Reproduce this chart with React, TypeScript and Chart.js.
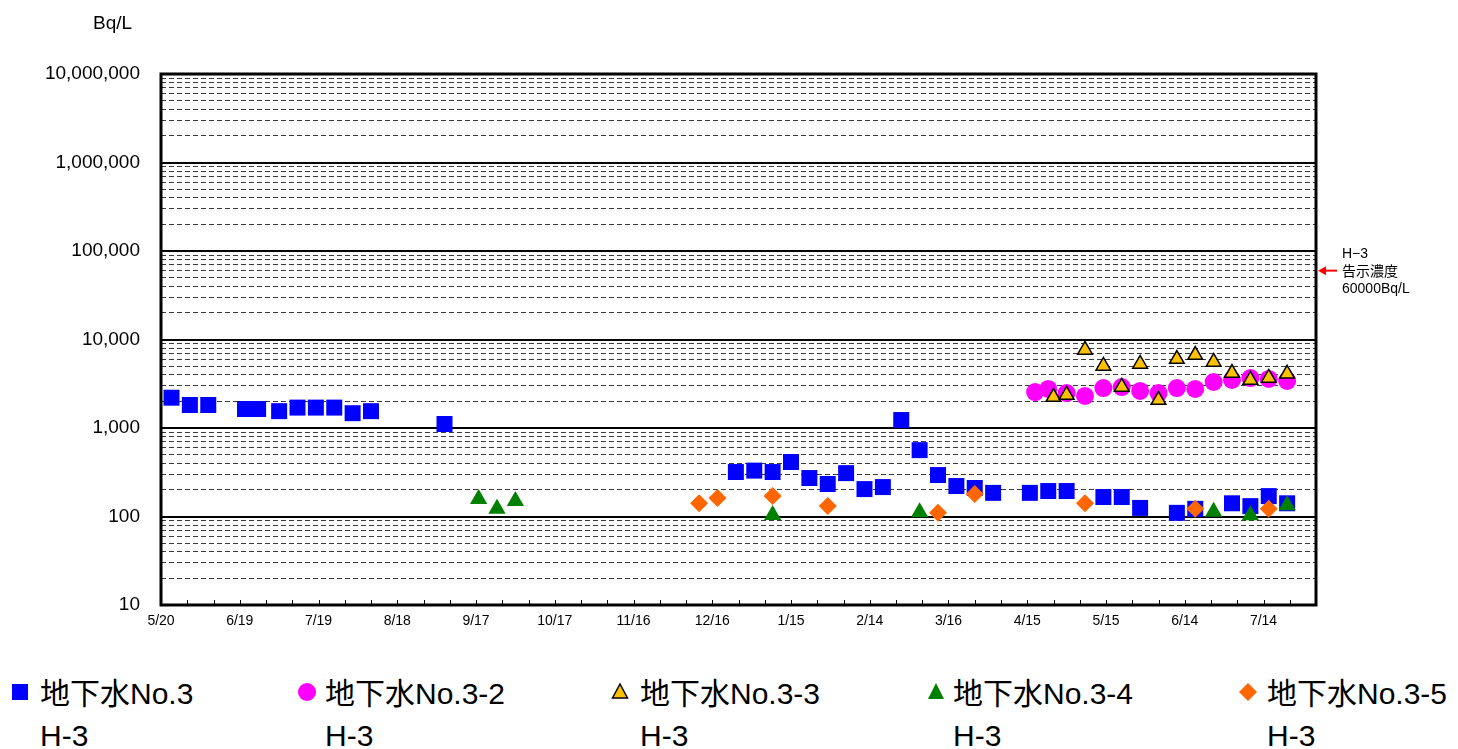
import React, { useEffect, useRef } from 'react';
import { Chart, registerables } from 'chart.js';

Chart.register(...registerables);

// x values are day offsets from 5/20 (axis runs 5/20 → 8/3, 440 days)
const X_MAX_DAY = 440;
const xTickLabels = ['5/20', '6/19', '7/19', '8/18', '9/17', '10/17', '11/16', '12/16', '1/15', '2/14', '3/16', '4/15', '5/15', '6/14', '7/14'];

const no3Days = [4, 11, 18, 32, 37, 45, 52, 59, 66, 73, 80, 108, 219, 226, 233, 240, 247, 254, 261, 268, 275, 282, 289, 296, 303, 310, 317, 331, 338, 345, 359, 366, 373, 387, 394, 408, 415, 422, 429];
const no3Values = [2200, 1820, 1820, 1640, 1640, 1550, 1700, 1700, 1700, 1470, 1550, 1110, 318, 330, 318, 413, 272, 233, 309, 204, 215, 1230, 562, 294, 221, 210, 185, 185, 194, 194, 166, 166, 125, 110, 122, 141, 131, 170, 141];

const no3_2Days = [333, 338, 345, 352, 359, 366, 373, 380, 387, 394, 401, 408, 415, 422, 429];
const no3_2Values = [2550, 2760, 2480, 2300, 2830, 2900, 2620, 2480, 2830, 2760, 3310, 3490, 3670, 3580, 3400];

const no3_3Days = [340, 345, 352, 359, 366, 373, 380, 387, 394, 401, 408, 415, 422, 429];
const no3_3Values = [2240, 2360, 7620, 5030, 2910, 5290, 2070, 6020, 6680, 5570, 4180, 3490, 3680, 4090];

const no3_4Days = [121, 128, 135, 233, 289, 401, 415, 429];
const no3_4Values = [158, 122, 150, 104, 112, 113, 103, 134];

const no3_5Days = [205, 212, 233, 254, 296, 310, 352, 394, 422];
const no3_5Values = [141, 162, 170, 131, 110, 180, 141, 122, 122];

const seriesNames = ['地下水No.3', '地下水No.3-2', '地下水No.3-3', '地下水No.3-4', '地下水No.3-5'];
const seriesSub = 'H-3';
const yUnit = 'Bq/L';
const limitValue = 60000;
const limitLines = ['H−3', '告示濃度', '60000Bq/L'];

const LATIN = '"Liberation Sans", Arial, "Noto Sans CJK JP", sans-serif';

const isDecade = (v: number) => {
  const l = Math.log10(v);
  return Math.abs(l - Math.round(l)) < 1e-9;
};

const toPoints = (xs: number[], ys: number[]) => xs.map((x, i) => ({ x, y: ys[i] }));

const chartPlugins = [
  {
    id: 'frameAndTicks',
    afterDraw(chart: any) {
      const { ctx, chartArea, scales } = chart;
      ctx.save();
      // inner x tick marks
      ctx.strokeStyle = '#000';
      ctx.lineWidth = 1;
      scales.x.ticks.forEach((t: any) => {
        const px = Math.round(scales.x.getPixelForValue(t.value)) + 0.5;
        ctx.beginPath();
        ctx.moveTo(px, chartArea.bottom);
        ctx.lineTo(px, chartArea.bottom - 5);
        ctx.stroke();
      });
      // frame
      ctx.lineWidth = 3;
      ctx.strokeRect(chartArea.left, chartArea.top, chartArea.right - chartArea.left, chartArea.bottom - chartArea.top);
      // limit annotation
      const y = scales.y.getPixelForValue(limitValue);
      const r = chartArea.right;
      ctx.strokeStyle = '#FF0000';
      ctx.fillStyle = '#FF0000';
      ctx.lineWidth = 2;
      ctx.beginPath();
      ctx.moveTo(r + 21, y);
      ctx.lineTo(r + 8, y);
      ctx.stroke();
      ctx.beginPath();
      ctx.moveTo(r + 2, y);
      ctx.lineTo(r + 10, y - 4.5);
      ctx.lineTo(r + 10, y + 4.5);
      ctx.closePath();
      ctx.fill();
      ctx.fillStyle = '#000';
      ctx.font = '14px ' + LATIN;
      ctx.textBaseline = 'middle';
      ctx.textAlign = 'left';
      limitLines.forEach((t, i) => ctx.fillText(t, r + 26, y - 16 + i * 17.5));
      ctx.restore();
    },
  },
];

function LegendMarker({ kind }: { kind: number }) {
  const s = 22;
  let shape: any = null;
  if (kind === 0) shape = <rect x={3} y={3} width={16} height={16} fill="#0000FF" />;
  if (kind === 1) shape = <circle cx={11} cy={11} r={9} fill="#FF00FF" />;
  if (kind === 2) shape = <polygon points="11,3 18.5,17 3.5,17" fill="#FFC000" stroke="#000" strokeWidth={1.5} />;
  if (kind === 3) shape = <polygon points="11,2 19,18 3,18" fill="#008000" />;
  if (kind === 4) shape = <polygon points="11,2 20,11 11,20 2,11" fill="#FF6600" />;
  return (
    <svg width={s} height={s} style={{ display: 'block' }}>
      {shape}
    </svg>
  );
}

export default function App() {
  const canvasRef = useRef<HTMLCanvasElement | null>(null);

  useEffect(() => {
    if (!canvasRef.current) return;
    const yTicks: number[] = [];
    for (let e = 1; e < 7; e++) for (let m = 1; m < 10; m++) yTicks.push(m * Math.pow(10, e));
    yTicks.push(1e7);
    const xTicks: number[] = [];
    for (let d = 0; d <= X_MAX_DAY; d += 10) xTicks.push(d);

    const chart = new Chart(canvasRef.current, {
      type: 'scatter',
      data: {
        datasets: [
          { label: seriesNames[0], data: toPoints(no3Days, no3Values), pointStyle: 'rect', pointRadius: 11.3, pointHoverRadius: 11.3, backgroundColor: '#0000FF', borderColor: '#0000FF', borderWidth: 0, order: 5 },
          { label: seriesNames[1], data: toPoints(no3_2Days, no3_2Values), pointStyle: 'circle', pointRadius: 9, pointHoverRadius: 9, backgroundColor: '#FF00FF', borderColor: '#FF00FF', borderWidth: 0, order: 4 },
          { label: seriesNames[2], data: toPoints(no3_3Days, no3_3Values), pointStyle: 'triangle', pointRadius: 8.5, pointHoverRadius: 8.5, backgroundColor: '#FFC000', borderColor: '#000000', borderWidth: 1.5, order: 3 },
          { label: seriesNames[3], data: toPoints(no3_4Days, no3_4Values), pointStyle: 'triangle', pointRadius: 10, pointHoverRadius: 10, backgroundColor: '#008000', borderColor: '#008000', borderWidth: 0, order: 2 },
          { label: seriesNames[4], data: toPoints(no3_5Days, no3_5Values), pointStyle: 'rectRot', pointRadius: 9, pointHoverRadius: 9, backgroundColor: '#FF6600', borderColor: '#FF6600', borderWidth: 0, order: 1 },
        ] as any,
      },
      options: {
        animation: false,
        responsive: false,
        events: [],
        layout: { padding: { left: 0, top: 74, right: 142, bottom: 0 } },
        plugins: { legend: { display: false }, tooltip: { enabled: false }, title: { display: false } },
        scales: {
          x: {
            type: 'linear',
            min: 0,
            max: X_MAX_DAY,
            afterBuildTicks: (scale: any) => {
              scale.ticks = xTicks.map((v) => ({ value: v }));
            },
            afterFit: (scale: any) => {
              scale.height = 45;
            },
            grid: { display: false, drawTicks: false },
            border: { display: false },
            ticks: {
              autoSkip: false,
              maxRotation: 0,
              minRotation: 0,
              padding: 8,
              color: '#000',
              font: { family: LATIN, size: 14 },
              callback: (v: any) => (Number(v) % 30 === 0 ? xTickLabels[Number(v) / 30] ?? '' : ''),
            },
          },
          y: {
            type: 'logarithmic',
            min: 10,
            max: 1e7,
            afterBuildTicks: (scale: any) => {
              scale.ticks = yTicks.map((v) => ({ value: v }));
            },
            afterFit: (scale: any) => {
              scale.width = 161;
            },
            grid: {
              drawTicks: false,
              color: (ctx: any) => (ctx.tick && isDecade(ctx.tick.value) ? '#000000' : '#3a3a3a'),
              lineWidth: (ctx: any) => (ctx.tick && isDecade(ctx.tick.value) ? 2 : 1),
            },
            border: {
              display: false,
              dash: (ctx: any) => (ctx.tick && !isDecade(ctx.tick.value) ? [5, 3] : []),
            } as any,
            ticks: {
              autoSkip: false,
              padding: 21,
              color: '#000',
              font: { family: LATIN, size: 19 },
              callback: (v: any) => (isDecade(Number(v)) ? Number(v).toLocaleString('en-US') : ''),
            },
          },
        },
      } as any,
      plugins: chartPlugins as any,
    });
    return () => chart.destroy();
  }, []);

  const markerLeft = [9, 296, 609, 925, 1237];
  const textLeft = [40, 325, 640, 953, 1267];

  return (
    <div style={{ position: 'absolute', left: 0, top: 0, width: 1458, height: 749, background: '#fff', overflow: 'hidden' }}>
      <canvas ref={canvasRef} width={1458} height={650} style={{ position: 'absolute', left: 0, top: 0, width: 1458, height: 650 }} />
      <div style={{ position: 'absolute', left: 93, top: 13, font: '19px ' + LATIN, lineHeight: '19px', color: '#000', whiteSpace: 'nowrap' }}>{yUnit}</div>
      {seriesNames.map((name, i) => (
        <React.Fragment key={name}>
          <div style={{ position: 'absolute', left: markerLeft[i], top: 681 }}>
            <LegendMarker kind={i} />
          </div>
          <div style={{ position: 'absolute', left: textLeft[i], top: 679, font: '30px ' + LATIN, lineHeight: '30px', color: '#000', whiteSpace: 'nowrap' }}>{name}</div>
          <div style={{ position: 'absolute', left: textLeft[i], top: 721, font: '30px ' + LATIN, lineHeight: '30px', color: '#000', whiteSpace: 'nowrap' }}>{seriesSub}</div>
        </React.Fragment>
      ))}
    </div>
  );
}
